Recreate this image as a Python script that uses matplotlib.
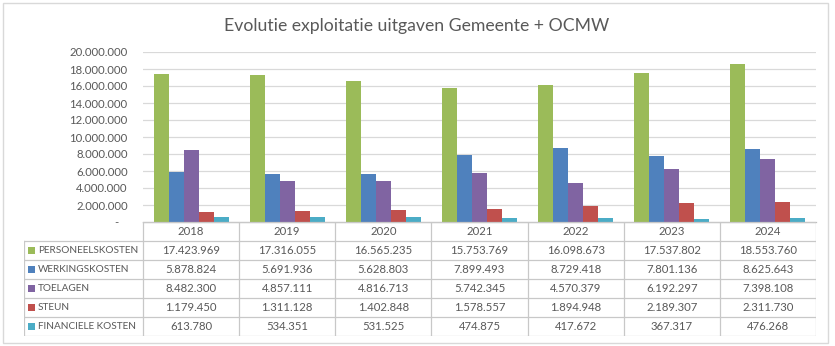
import matplotlib.pyplot as plt
from matplotlib.patches import Rectangle
from matplotlib.ticker import FuncFormatter
import numpy as np

plt.rcParams['font.family'] = ['Lato', 'DejaVu Sans']

years = ["2018", "2019", "2020", "2021", "2022", "2023", "2024"]
series_names = ["PERSONEELSKOSTEN", "WERKINGSKOSTEN", "TOELAGEN", "STEUN", "FINANCIELE KOSTEN"]
personeelskosten = [17423969, 17316055, 16565235, 15753769, 16098673, 17537802, 18553760]
werkingskosten = [5878824, 5691936, 5628803, 7899493, 8729418, 7801136, 8625643]
toelagen = [8482300, 4857111, 4816713, 5742345, 4570379, 6192297, 7398108]
steun = [1179450, 1311128, 1402848, 1578557, 1894948, 2189307, 2311730]
financiele_kosten = [613780, 534351, 531525, 474875, 417672, 367317, 476268]

series = [personeelskosten, werkingskosten, toelagen, steun, financiele_kosten]
colors = ["#9BBB59", "#4F81BD", "#8064A2", "#C0504D", "#4BACC6"]
text_color = "#595959"

W, H = 835, 346
fig = plt.figure(figsize=(W / 100, H / 100), dpi=100)


def fx(px):
    return px / W


def fy(py):
    return 1 - py / H


# outer chart border
fig.patches.append(Rectangle((fx(3), fy(343)), fx(825), 340 / H, transform=fig.transFigure,
                             fill=False, edgecolor="#D9D9D9", lw=1))

fig.text(fx(417), fy(26), "Evolutie exploitatie uitgaven Gemeente + OCMW",
         ha="center", va="center", fontsize=12.7, color=text_color)

# bar area
left, right, top, bottom = 143, 816, 52, 222
ax = fig.add_axes([fx(left), fy(bottom), fx(right - left), (bottom - top) / H])

x = np.arange(len(years))
bw = 0.156
for i, (vals, c) in enumerate(zip(series, colors)):
    ax.bar(x + (i - 2) * bw, vals, width=bw, color=c, zorder=2)

ax.set_xlim(-0.5, len(years) - 0.5)
ax.set_ylim(0, 20000000)
ax.set_yticks(np.arange(0, 20000001, 2000000))


def fmt(v, pos=None):
    if v == 0:
        return "-   "
    return f"{int(v):,}".replace(",", ".")


ax.yaxis.set_major_formatter(FuncFormatter(fmt))
ax.tick_params(axis="y", length=0, pad=11, labelsize=8.2, labelcolor=text_color)
ax.set_xticks([])
ax.grid(axis="y", color="#D9D9D9", lw=0.9, zorder=0)
for s in ["top", "left", "right"]:
    ax.spines[s].set_visible(False)
ax.spines["bottom"].set_color("#BFBFBF")
ax.spines["bottom"].set_linewidth(0.9)

# data table under the bars
t_left, t_bottom = 24, 336
col_w = (right - left) / len(years)
left_units = (left - t_left) / col_w
tab = fig.add_axes([fx(t_left), fy(t_bottom), fx(right - t_left), (t_bottom - bottom) / H])
tab.set_xlim(-0.5 - left_units, len(years) - 0.5)
tab.set_ylim(6, 0)
tab.axis("off")

line_kw = dict(color="#C8C8C8", lw=0.9)
x0 = -0.5 - left_units
x_end = len(years) - 0.5
tab.plot([-0.5, x_end], [0, 0], **line_kw)
for r in range(1, 7):
    tab.plot([x0, x_end], [r, r], **line_kw)
tab.plot([x0, x0], [1, 6], **line_kw)
for k in range(len(years) + 1):
    tab.plot([k - 0.5, k - 0.5], [0, 6], **line_kw)

for k, yr in enumerate(years):
    tab.text(k, 0.5, yr, ha="center", va="center", fontsize=8.2, color=text_color)

sw = 7 / col_w
for r, (name, vals, c) in enumerate(zip(series_names, series, colors), start=1):
    tab.add_patch(Rectangle((x0 + 4 / col_w, r + 0.5 - 0.18), sw, 0.36,
                            facecolor=c, edgecolor="none"))
    tab.text(x0 + 14 / col_w, r + 0.5, name, ha="left", va="center",
             fontsize=7.2, color=text_color)
    for k, v in enumerate(vals):
        tab.text(k, r + 0.5, fmt(v), ha="center", va="center", fontsize=8.2, color=text_color)

fig.savefig("out.png", dpi=100)
